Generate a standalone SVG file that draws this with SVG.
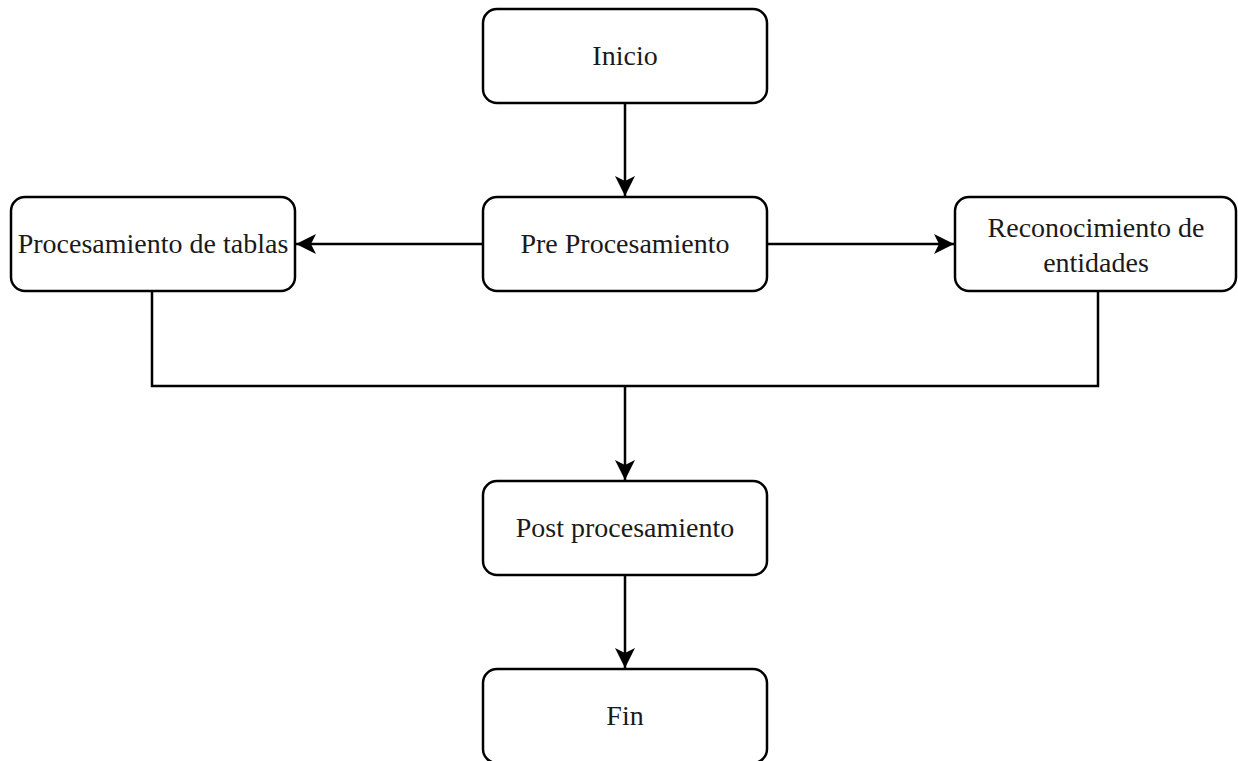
<svg xmlns="http://www.w3.org/2000/svg" width="1238" height="761" viewBox="0 0 1238 761">
<style>
.box{fill:#fff;stroke:#000;stroke-width:2.5}
.lbl{font-family:"Liberation Serif","Times New Roman",serif;font-size:28px;fill:#1a1a1a;text-anchor:middle}
.con{fill:none;stroke:#000;stroke-width:2.5}
</style>
<defs>
<marker id="ah" viewBox="0 0 20 22" refX="20" refY="11" markerWidth="20" markerHeight="22" markerUnits="userSpaceOnUse" orient="auto">
<path d="M0,1 L20,11 L0,21 L5,11 z" fill="#000"/>
</marker>
</defs>
<rect width="1238" height="761" fill="#fff"/>
<g id="connectors">
<path class="con" d="M625,103 V196" marker-end="url(#ah)"/>
<path class="con" d="M483,244 H296" marker-end="url(#ah)"/>
<path class="con" d="M767,244 H954" marker-end="url(#ah)"/>
<path class="con" d="M152,291 V386 H1098 V291"/>
<path class="con" d="M625,386 V480" marker-end="url(#ah)"/>
<path class="con" d="M625,575 V668" marker-end="url(#ah)"/>
</g>
<g id="inicio"><rect class="box" x="483" y="9" width="284" height="94" rx="14"/><text class="lbl" x="625" y="65">Inicio</text></g>
<g id="pre"><rect class="box" x="483" y="197" width="284" height="94" rx="14"/><text class="lbl" x="625" y="253">Pre Procesamiento</text></g>
<g id="tablas"><rect class="box" x="11" y="197" width="284" height="94" rx="14"/><text class="lbl" x="153" y="253">Procesamiento de tablas</text></g>
<g id="entidades"><rect class="box" x="955" y="197" width="281" height="94" rx="14"/><text class="lbl" x="1096" y="237">Reconocimiento de</text><text class="lbl" x="1096" y="272">entidades</text></g>
<g id="post"><rect class="box" x="483" y="481" width="284" height="94" rx="14"/><text class="lbl" x="625" y="537">Post procesamiento</text></g>
<g id="fin"><rect class="box" x="483" y="669" width="284" height="94" rx="14"/><text class="lbl" x="625" y="725">Fin</text></g>
</svg>
